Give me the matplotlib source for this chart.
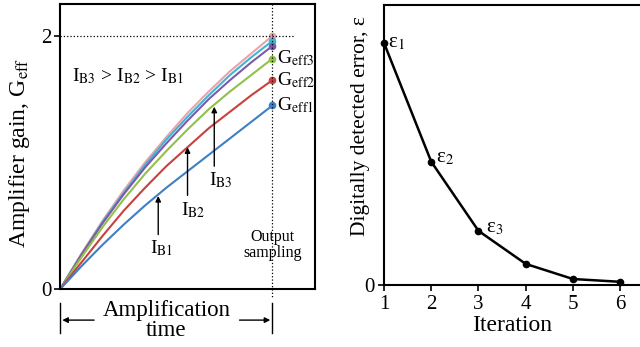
import matplotlib.pyplot as plt
from matplotlib.transforms import blended_transform_factory

plt.rcParams['font.family'] = ['Liberation Serif', 'DejaVu Serif']
plt.rcParams['mathtext.fontset'] = 'stix'

# Left panel: gain vs amplification time (normalised), one curve per bias current
t = [0, 0.1, 0.2, 0.3, 0.4, 0.5, 0.6, 0.7, 0.8, 0.9, 1.0]
g_pink = [0, 0.28, 0.54, 0.78, 1.00, 1.20, 1.39, 1.56, 1.72, 1.86, 2.00]
g_cyan = [0, 0.27, 0.53, 0.76, 0.98, 1.18, 1.36, 1.53, 1.69, 1.83, 1.96]
g_purple = [0, 0.27, 0.52, 0.75, 0.96, 1.15, 1.33, 1.50, 1.65, 1.79, 1.92]
g_green = [0, 0.25, 0.49, 0.71, 0.91, 1.09, 1.26, 1.42, 1.56, 1.69, 1.82]
g_red = [0, 0.21, 0.42, 0.62, 0.80, 0.97, 1.12, 1.27, 1.40, 1.53, 1.65]
g_blue = [0, 0.18, 0.35, 0.51, 0.66, 0.80, 0.93, 1.06, 1.19, 1.32, 1.45]

curves = [g_pink, g_cyan, g_purple, g_green, g_red, g_blue]
colors = ['#eaa3aa', '#3fb4d4', '#7a5ba8', '#92c04a', '#c9403c', '#3f7fc4']

# Right panel: detected error per iteration
iteration = [1, 2, 3, 4, 5, 6]
error = [0.864, 0.44, 0.193, 0.075, 0.021, 0.011]

fig = plt.figure(figsize=(6.4, 3.47), dpi=100)

# ---- left panel
ax1 = fig.add_axes([0.094, 0.167, 0.398, 0.821])
for g, c in zip(curves, colors):
    ax1.plot(t, g, color=c, lw=1.5)
    ax1.plot(t[-1], g[-1], 'o', color=c, ms=4.5)

ax1.set_xlim(0, 1.2)
ax1.set_ylim(0, 2.25)
ax1.set_xticks([])
ax1.set_yticks([0, 2])
ax1.tick_params(axis='y', length=4, width=1.2, labelsize=15, pad=2)
for s in ax1.spines.values():
    s.set_linewidth(1.5)
ax1.set_ylabel(r'Amplifier gain, G$_{\mathrm{eff}}$', fontsize=17)
ax1.yaxis.set_label_coords(-0.11, 0.477)

ax1.plot([0, 1.1], [2, 2], ls=':', color='k', lw=0.9, clip_on=False)
tr = blended_transform_factory(ax1.transData, ax1.transAxes)
ax1.plot([1, 1], [1, -0.03], ls=':', color='k', lw=0.9, transform=tr, clip_on=False)

ax1.text(0.057, 1.68, r'I$_{\mathrm{B3}}$ > I$_{\mathrm{B2}}$ > I$_{\mathrm{B1}}$',
         fontsize=14, va='center', ha='left')

arrows = [(0.462, 0.43, 0.735, 0.476, 0.32, 'B1'),
          (0.60, 0.74, 1.12, 0.627, 0.62, 'B2'),
          (0.726, 0.97, 1.44, 0.759, 0.86, 'B3')]
for x, y0, y1, lx, ly, lab in arrows:
    ax1.annotate('', xy=(x, y1), xytext=(x, y0),
                 arrowprops=dict(arrowstyle='-|>', color='k', lw=1.0,
                                 mutation_scale=8, shrinkA=0, shrinkB=0))
    ax1.text(lx, ly, r'I$_{\mathrm{%s}}$' % lab, fontsize=14, ha='center', va='center')

for g, n in [(g_green, 3), (g_red, 2), (g_blue, 1)]:
    ax1.text(1.02, g[-1], r'G$_{\mathrm{eff%d}}$' % n, fontsize=14, ha='left', va='center')

ax1.text(1.0, 0.35, 'Output\nsampling', fontsize=11.5, ha='center', va='center',
         linespacing=1.0)

# amplification time bracket below the axis
for x in [0, 1]:
    ax1.plot([x, x], [-0.049, -0.154], color='k', lw=1.0, transform=tr, clip_on=False)
ax1.annotate('', xy=(0.01, -0.109), xytext=(0.16, -0.109), xycoords=tr, textcoords=tr,
             arrowprops=dict(arrowstyle='-|>', color='k', lw=1.0, mutation_scale=8,
                             shrinkA=0, shrinkB=0))
ax1.annotate('', xy=(0.99, -0.109), xytext=(0.845, -0.109), xycoords=tr, textcoords=tr,
             arrowprops=dict(arrowstyle='-|>', color='k', lw=1.0, mutation_scale=8,
                             shrinkA=0, shrinkB=0))
ax1.text(0.5, -0.11, 'Amplification\ntime', fontsize=16.5, ha='center', va='center',
         transform=tr, linespacing=0.9)

# ---- right panel
ax2 = fig.add_axes([0.6, 0.179, 0.4, 0.807])
ax2.plot(iteration, error, color='k', lw=1.8, marker='o', ms=4.5, clip_on=False)
ax2.set_xlim(1, 6.42)
ax2.set_ylim(0, 1.0)
ax2.set_xticks(iteration)
ax2.set_yticks([0])
ax2.tick_params(length=4, width=1.2, labelsize=15, pad=3)
for s in ax2.spines.values():
    s.set_linewidth(1.5)
ax2.spines['right'].set_visible(False)
ax2.set_xlabel('Iteration', fontsize=17, labelpad=1)
ax2.set_ylabel('Digitally detected error, ε', fontsize=15.5)
ax2.yaxis.set_label_coords(-0.055, 0.568)

ax2.text(1.08, 0.865, r'ε$_1$', fontsize=15, ha='left', va='center')
ax2.text(2.1, 0.455, r'ε$_2$', fontsize=15, ha='left', va='center')
ax2.text(3.15, 0.205, r'ε$_3$', fontsize=15, ha='left', va='center')

fig.savefig('out.png', dpi=100)
